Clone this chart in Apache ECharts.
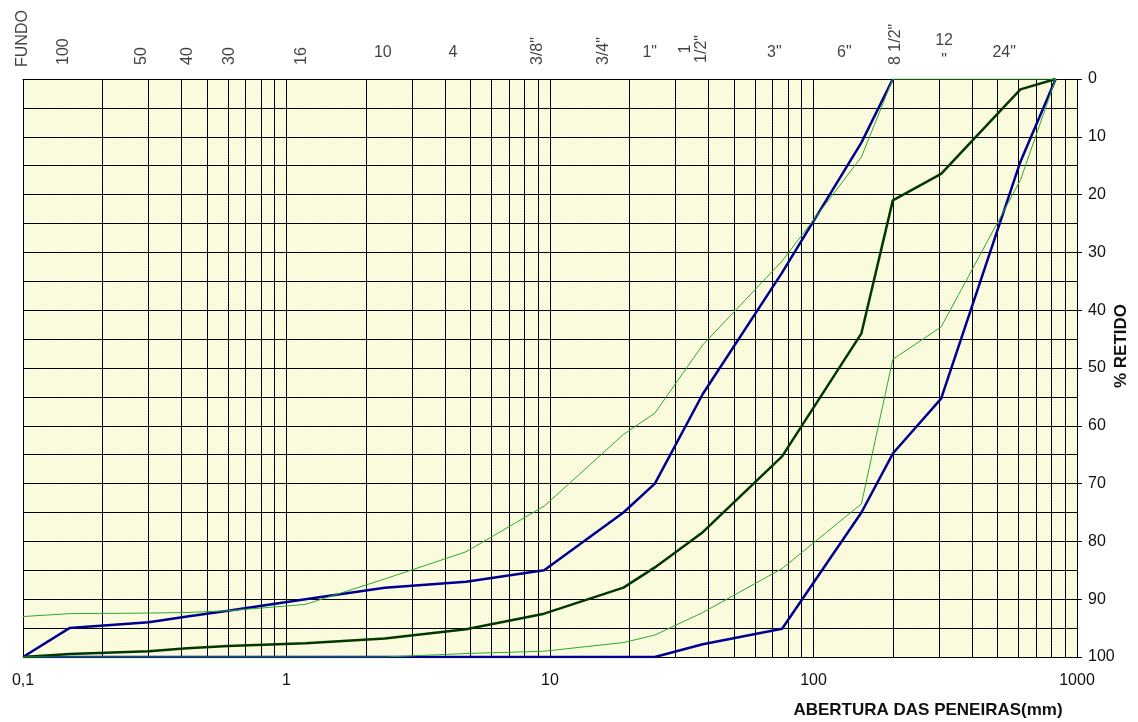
<!DOCTYPE html>
<html>
<head>
<meta charset="utf-8">
<script src="https://cdn.jsdelivr.net/npm/echarts@6/dist/echarts.min.js"></script>
<style>
html,body{margin:0;padding:0;background:#fff;}
#chart{width:1138px;height:722px;}
</style>
</head>
<body>
<div id="chart"></div>
<script>
// ---- data ----
const sizes      = [0.1, 0.15, 0.3, 0.42, 0.6, 1.18, 2.36, 4.8, 9.5, 19, 25, 38, 76, 152, 200, 305, 610, 830];
const thinUpper  = [93, 92.5, 92.4, 92.3, 92.0, 90.9, 86.5, 81.8, 73.9, 61.5, 57.8, 46, 31.5, 13.5, 0, 0, 0, 0];
const blueUpper  = [100, 95, 94, 93, 92, 90, 88, 87, 85, 75, 70, 54.5, 33.5, 11, 0, null, null, null];
const darkMiddle = [100, 99.5, 99, 98.5, 98.1, 97.6, 96.8, 95.2, 92.5, 88, 84.5, 78.4, 65.3, 44, 21, 16.4, 1.8, 0];
const thinLower  = [100, 100, 100, 100, 100, 100, 100, 99.4, 99.0, 97.5, 96.2, 92.3, 84.7, 73.5, 48.5, 42.9, 17.5, 0];
const blueLower  = [100, 100, 100, 100, 100, 100, 100, 100, 100, 100, 100, 97.8, 95.1, 75, 64.8, 55.3, 14.3, 0];

const sieveLabels   = ['FUNDO', '100', '50', '40', '30', '16', '10', '4', '3/8"', '3/4"', '1"', '1\n1/2"', '3"', '6"', '8 1/2"', '12\n"', '24"'];
const sieveLabelPos = [0.1, 0.143, 0.282, 0.422, 0.61, 1.14, 2.32, 4.28, 8.98, 15.97, 23.9, 35, 71, 131, 205, 313, 529];
const sieveRotated  = [1, 1, 1, 1, 1, 1, 0, 0, 1, 1, 0, 1, 0, 0, 1, 0, 0];

const xGridValues = [0.1,0.2,0.3,0.4,0.5,0.6,0.7,0.8,0.9,
                     1,2,3,4,5,6,7,8,9,
                     10,20,30,40,50,60,70,80,90,
                     100,200,300,400,500,600,700,800,900,1000];

// ---- hatch pattern ----
const pc = document.createElement('canvas');
pc.width = 6; pc.height = 6;
const g = pc.getContext('2d');
g.fillStyle = '#ffffe8';
g.fillRect(0,0,6,6);
g.strokeStyle = '#f3f3cc';
g.lineWidth = 1;
for (let k = -6; k <= 12; k += 3) {
  g.beginPath(); g.moveTo(k, 0); g.lineTo(k + 6, 6); g.stroke();
}

const FONT = 'Liberation Sans, Arial, sans-serif';
const pairs = arr => sizes.map((s, i) => [s, arr[i]]).filter(p => p[1] !== null);

const labelData = sieveLabels.map((t, i) => {
  const rot = sieveRotated[i] === 1;
  const multi = t.indexOf('\n') >= 0;
  const item = { value: [sieveLabelPos[i], 0], name: t };
  if (rot) {
    item.label = { rotate: 90, align: multi ? 'center' : 'left', verticalAlign: 'middle',
                   distance: multi ? 30 : 14 };
  } else if (multi) {
    item.label = { rotate: 0, align: 'center', verticalAlign: 'bottom', distance: 8, lineHeight: 20 };
  } else {
    item.label = { rotate: 0, align: 'center', verticalAlign: 'bottom', distance: 18 };
  }
  if (t === 'FUNDO') item.label.offset = [-2, 0];
  return item;
});

const chart = echarts.init(document.getElementById('chart'), null, { renderer: 'canvas' });
const lineBase = { type: 'line', symbol: 'none', animation: false, silent: true, z: 5 };

chart.setOption({
  animation: false,
  backgroundColor: '#ffffff',
  grid: {
    left: 23, right: 61, top: 79, bottom: 65,
    outerBoundsMode: 'none', containLabel: false,
    show: true, borderWidth: 0,
    backgroundColor: { image: pc, repeat: 'repeat' }
  },
  xAxis: {
    type: 'log', logBase: 10, min: 0.1, max: 1000,
    axisLine: { show: true, lineStyle: { color: '#000', width: 1 } },
    axisTick: { show: false },
    splitLine: { show: false },
    axisLabel: {
      margin: 16, fontSize: 16, color: '#111', fontFamily: FONT,
      formatter: v => (v < 0.5 ? '0,1' : String(Math.round(v)))
    },
    name: 'ABERTURA DAS PENEIRAS(mm)',
    nameLocation: 'middle', nameGap: 45, nameMoveOverlap: false,
    nameTextStyle: { fontSize: 17, fontWeight: 'bold', color: '#111', fontFamily: FONT,
                     padding: [0, 0, 0, 756] }
  },
  yAxis: {
    type: 'value', position: 'right', inverse: true, min: 0, max: 100, interval: 10,
    axisLine: { show: false },
    axisTick: { show: true, length: 5, lineStyle: { color: '#000' } },
    minorTick: { show: false, splitNumber: 2 },
    splitLine: { show: true, lineStyle: { color: '#000', width: 1 } },
    minorSplitLine: { show: true, lineStyle: { color: '#000', width: 1 } },
    axisLabel: { margin: 11, fontSize: 16, color: '#111', fontFamily: FONT },
    name: '% RETIDO', nameLocation: 'middle', nameRotate: 90, nameGap: 36, nameMoveOverlap: false,
    nameTextStyle: { fontSize: 17, fontWeight: 'bold', color: '#111', fontFamily: FONT,
                     padding: [0, 0, 0, 44] }
  },
  series: [
    {
      type: 'scatter', symbolSize: 0, silent: true, animation: false, z: 3,
      clip: false,
      data: labelData,
      label: { show: true, position: 'top', formatter: p => p.name,
               fontSize: 16, color: '#111', fontFamily: FONT, lineHeight: 16 },
      markLine: {
        silent: true, animation: false, symbol: ['none', 'none'],
        label: { show: false },
        lineStyle: { color: '#000', width: 1, type: 'solid' },
        emphasis: { disabled: true },
        data: xGridValues.map(v => ({ xAxis: v }))
      }
    },
    Object.assign({}, lineBase, { name: 'faixa inferior', data: pairs(blueLower),
      lineStyle: { color: '#000090', width: 2.5 } }),
    Object.assign({}, lineBase, { name: 'faixa superior', data: pairs(blueUpper),
      lineStyle: { color: '#000090', width: 2.5 } }),
    Object.assign({}, lineBase, { name: 'amostra', data: pairs(darkMiddle),
      lineStyle: { color: '#003800', width: 2.5 } }),
    Object.assign({}, lineBase, { name: 'limite inferior', data: pairs(thinLower), z: 6,
      lineStyle: { color: '#2eaa2e', width: 1 } }),
    Object.assign({}, lineBase, { name: 'limite superior', data: pairs(thinUpper), z: 6,
      lineStyle: { color: '#2eaa2e', width: 1 } })
  ]
});
</script>
</body>
</html>
